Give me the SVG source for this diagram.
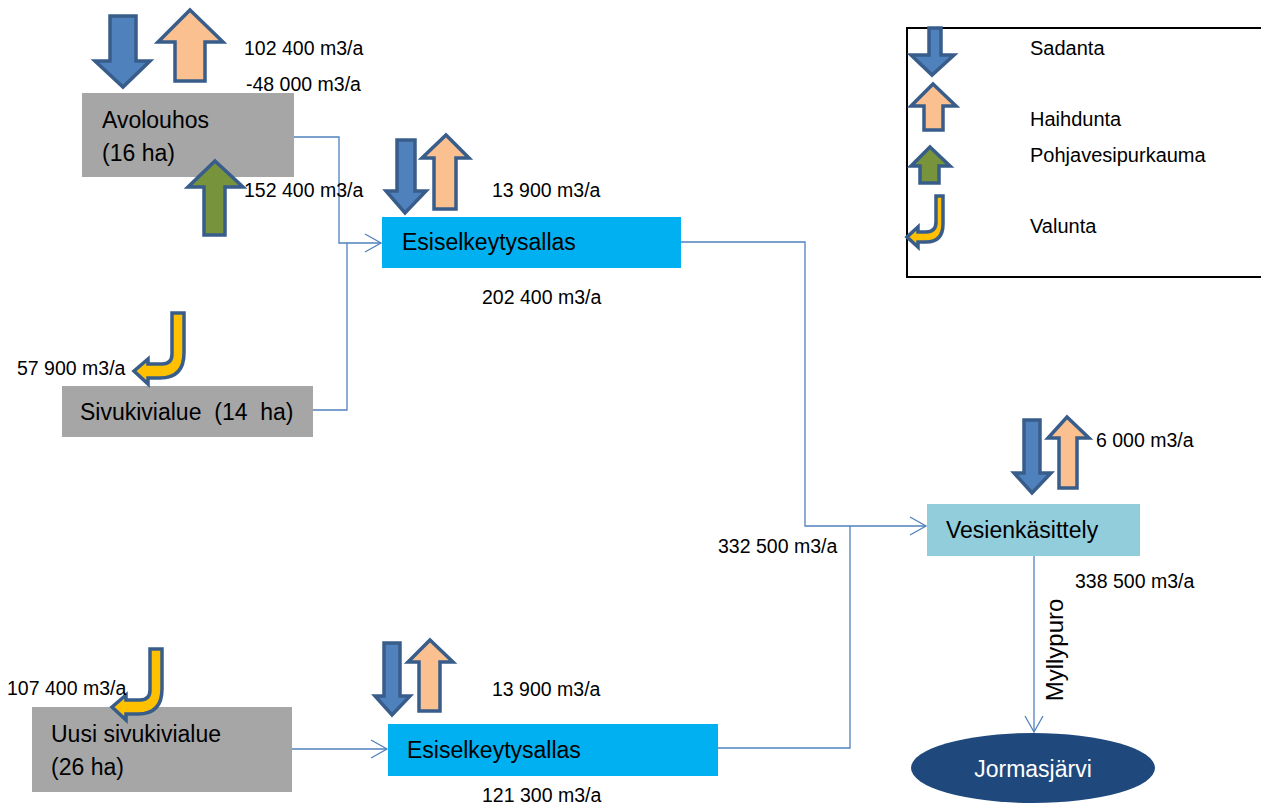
<svg xmlns="http://www.w3.org/2000/svg" width="1261" height="805" viewBox="0 0 1261 805">
<style>
.n{font-family:"Liberation Sans",Arial,sans-serif;font-size:23px;fill:#000}
.v{font-family:"Liberation Sans",Arial,sans-serif;font-size:19.5px;fill:#000}
.l{font-family:"Liberation Sans",Arial,sans-serif;font-size:20px;fill:#000}
.ar{stroke:#385d8a;stroke-width:3.5;stroke-linejoin:miter}
.b{fill:#4f81bd}.o{fill:#fac090}.g{fill:#77933c}.y{fill:#ffc000}
.c{fill:none;stroke:#4f81bd;stroke-width:1.3}
</style>
<defs>
<marker id="ah" markerUnits="userSpaceOnUse" markerWidth="20" markerHeight="22" refX="17" refY="10" orient="auto">
<path d="M1,1 L17,10 L1,19" fill="none" stroke="#4f81bd" stroke-width="1.3"/>
</marker>
<path id="valunta" d="M-12,0 H0 V40 Q0,65 -24,65 H-36 V71 L-50,58 L-36,46 V51 H-22 Q-12,51 -12,41 Z"/>
</defs>
<rect width="1261" height="805" fill="#fff"/>

<g id="legend">
<rect x="907" y="28" width="360" height="249" fill="#fff" stroke="#000" stroke-width="2"/>
<path class="ar b" d="M929,28 H941 V55 H954 L932,75 L911,55 H929 Z"/>
<path class="ar o" d="M933,84 L956,106 H943 V130 H924 V106 H911 Z"/>
<path class="ar g" d="M930,147 L950,166 H939 V183 H920 V166 H911 Z"/>
<path class="ar y" stroke-width="2.5" d="M936,196 H943 V224 Q943,242 926,242 H918 V247 L907,237 L918,227 V232 H926 Q936,232 936,222 Z"/>
<text class="l" x="1030" y="55">Sadanta</text>
<text class="l" x="1030" y="126">Haihdunta</text>
<text class="l" x="1030" y="162">Pohjavesipurkauma</text>
<text class="l" x="1030" y="233">Valunta</text>
</g>

<g id="connectors">
<polyline class="c" points="294,137 339,137 339,243 381,243" marker-end="url(#ah)"/>
<polyline class="c" points="313,410 347,410 347,243"/>
<polyline class="c" points="681,242 805,242 805,526 926,526" marker-end="url(#ah)"/>
<polyline class="c" points="718,748 850,748 850,526"/>
<polyline class="c" points="292,749 387,749" marker-end="url(#ah)"/>
<polyline class="c" points="1034,556 1034,732" marker-end="url(#ah)"/>
<text class="l" transform="translate(1063,650) rotate(-90)" text-anchor="middle" style="font-size:24px">Myllypuro</text>
</g>

<g id="avolouhos">
<rect x="82" y="93" width="212" height="84" fill="#a6a6a6"/>
<text class="n" x="102" y="128">Avolouhos</text>
<text class="n" x="102" y="161">(16 ha)</text>
<path class="ar b" d="M110,16 H136 V61 H150 L123,87 L95,61 H110 Z"/>
<path class="ar o" d="M190,10 L223,42 H205 V81 H175 V42 H158 Z"/>
<path class="ar g" d="M215,161 L243,187 H225 V235 H204 V187 H188 Z"/>
<text class="v" x="244" y="55">102 400 m3/a</text>
<text class="v" x="246" y="91">-48 000 m3/a</text>
<text class="v" x="244" y="197">152 400 m3/a</text>
</g>

<g id="sivukivialue">
<rect x="62" y="386" width="251" height="51" fill="#a6a6a6"/>
<text class="n" x="80" y="420" style="white-space:pre">Sivukivialue  (14  ha)</text>
<use href="#valunta" class="ar y" transform="translate(184,313)"/>
<text class="v" x="17" y="375">57 900 m3/a</text>
</g>

<g id="esiselkeytysallas1">
<rect x="382" y="217" width="299" height="51" fill="#00b0f0"/>
<text class="n" x="402" y="250">Esiselkeytysallas</text>
<path class="ar b" d="M397,140 H415 V191 H426 L405,213 L386,191 H397 Z"/>
<path class="ar o" d="M446,135 L469,158 H456 V209 H434 V158 H422 Z"/>
<text class="v" x="492" y="197">13 900 m3/a</text>
<text class="v" x="482" y="304">202 400 m3/a</text>
</g>

<g id="uusisivukivialue">
<rect x="32" y="707" width="260" height="85" fill="#a6a6a6"/>
<text class="n" x="51" y="742">Uusi sivukivialue</text>
<text class="n" x="51" y="775">(26 ha)</text>
<use href="#valunta" class="ar y" transform="translate(162,649)"/>
<text class="v" x="7" y="695">107 400 m3/a</text>
</g>

<g id="esiselkeytysallas2">
<rect x="388" y="724" width="330" height="52" fill="#00b0f0"/>
<text class="n" x="407" y="758">Esiselkeytysallas</text>
<path class="ar b" d="M384,643 H400 V696 H410 L392,715 L375,696 H384 Z"/>
<path class="ar o" d="M430,640 L453,662 H440 V711 H419 V662 H408 Z"/>
<text class="v" x="492" y="696">13 900 m3/a</text>
<text class="v" x="482" y="802">121 300 m3/a</text>
</g>

<g id="vesienkasittely">
<rect x="927" y="504" width="213" height="52" fill="#92cddc"/>
<text class="n" x="946" y="538">Vesienkäsittely</text>
<path class="ar b" d="M1024,420 H1040 V473 H1051 L1032,493 L1014,473 H1024 Z"/>
<path class="ar o" d="M1067,417 L1089,438 H1077 V488 H1059 V438 H1048 Z"/>
<text class="v" x="1096" y="447">6 000 m3/a</text>
<text class="v" x="718" y="553">332 500 m3/a</text>
<text class="v" x="1075" y="588">338 500 m3/a</text>
</g>

<g id="jormasjarvi">
<ellipse cx="1033" cy="768" rx="122" ry="35" fill="#1f497d"/>
<text class="n" x="1033" y="777" text-anchor="middle" style="fill:#fff">Jormasjärvi</text>
</g>
</svg>
